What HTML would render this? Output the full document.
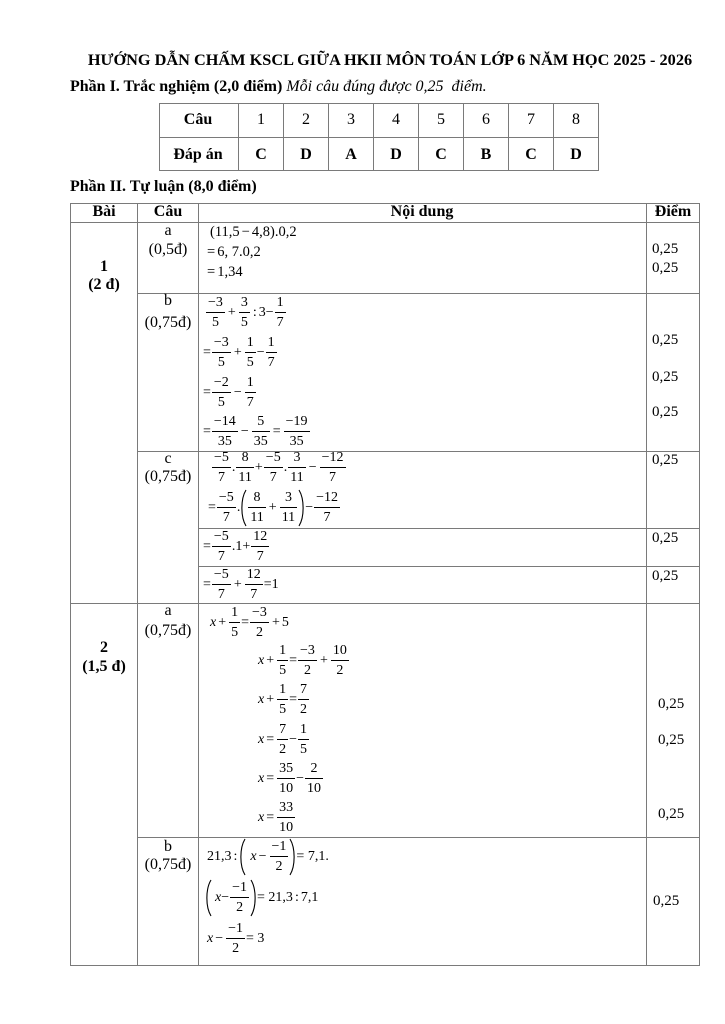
<!DOCTYPE html>
<html><head><meta charset="utf-8">
<style>
*{margin:0;padding:0;box-sizing:border-box}
body{width:725px;height:1024px;background:#fff;position:relative;overflow:hidden;font-family:"Liberation Serif","DejaVu Serif",serif;color:#000}
.t{position:absolute;white-space:nowrap;line-height:18px;font-size:16px}
.c{transform:translateX(-50%)}
.b{font-weight:bold}
.h{position:absolute;height:1px;background:#7a7a7a}
.v{position:absolute;width:1px;background:#7a7a7a}
.m{position:absolute;display:flex;align-items:center;font-size:14px;height:37px;white-space:nowrap;line-height:17px}
.f{display:inline-flex;flex-direction:column;text-align:center;margin:0 1px}
.f i{font-style:normal;line-height:17px;padding:0 2px;display:block}
.f i:first-child{border-bottom:1px solid #000;padding-bottom:1px}
.f i:last-child{padding-top:1px}
.o{margin:0 2px}
.x{font-style:italic}
.p{display:inline-block;width:7px;height:38px;vertical-align:middle}
.s{position:absolute;font-size:15px;line-height:18px;white-space:nowrap}
.mt{position:absolute;font-size:14.5px;line-height:18px;white-space:nowrap}
</style></head><body>

<!-- Title -->
<div class="t b" style="left:80px;width:620px;top:51px;text-align:center;font-size:16.3px">HƯỚNG DẪN CHẤM KSCL GIỮA HKII MÔN TOÁN LỚP 6 NĂM HỌC 2025 - 2026</div>
<div class="t" style="left:70px;top:78px"><b>Phần I. Trắc nghiệm (2,0 điểm)</b> <i>Mỗi câu đúng được 0,25&nbsp; điểm.</i></div>

<!-- Table 1 lines -->
<div class="h" style="left:159px;width:440px;top:103px"></div>
<div class="h" style="left:159px;width:440px;top:137px"></div>
<div class="h" style="left:159px;width:440px;top:170px"></div>
<div class="v" style="left:159px;top:103px;height:68px"></div>
<div class="v" style="left:238px;top:103px;height:68px"></div>
<div class="v" style="left:283px;top:103px;height:68px"></div>
<div class="v" style="left:328px;top:103px;height:68px"></div>
<div class="v" style="left:373px;top:103px;height:68px"></div>
<div class="v" style="left:418px;top:103px;height:68px"></div>
<div class="v" style="left:463px;top:103px;height:68px"></div>
<div class="v" style="left:508px;top:103px;height:68px"></div>
<div class="v" style="left:553px;top:103px;height:68px"></div>
<div class="v" style="left:598px;top:103px;height:68px"></div>

<div class="t b c" style="left:198px;top:111px">Câu</div>
<div class="t c" style="left:261px;top:111px">1</div>
<div class="t c" style="left:306px;top:111px">2</div>
<div class="t c" style="left:351px;top:111px">3</div>
<div class="t c" style="left:396px;top:111px">4</div>
<div class="t c" style="left:441px;top:111px">5</div>
<div class="t c" style="left:486px;top:111px">6</div>
<div class="t c" style="left:531px;top:111px">7</div>
<div class="t c" style="left:576px;top:111px">8</div>
<div class="t b c" style="left:198px;top:146px">Đáp án</div>
<div class="t b c" style="left:261px;top:146px">C</div>
<div class="t b c" style="left:306px;top:146px">D</div>
<div class="t b c" style="left:351px;top:146px">A</div>
<div class="t b c" style="left:396px;top:146px">D</div>
<div class="t b c" style="left:441px;top:146px">C</div>
<div class="t b c" style="left:486px;top:146px">B</div>
<div class="t b c" style="left:531px;top:146px">C</div>
<div class="t b c" style="left:576px;top:146px">D</div>

<div class="t b" style="left:70px;top:178px">Phần II. Tự luận (8,0 điểm)</div>

<!-- Main table lines -->
<div class="h" style="left:70px;width:630px;top:203px"></div>
<div class="h" style="left:70px;width:630px;top:222px"></div>
<div class="h" style="left:137px;width:563px;top:293px"></div>
<div class="h" style="left:137px;width:563px;top:451px"></div>
<div class="h" style="left:198px;width:502px;top:528px"></div>
<div class="h" style="left:198px;width:502px;top:566px"></div>
<div class="h" style="left:70px;width:630px;top:603px"></div>
<div class="h" style="left:137px;width:563px;top:837px"></div>
<div class="h" style="left:70px;width:630px;top:965px"></div>
<div class="v" style="left:70px;top:203px;height:763px"></div>
<div class="v" style="left:137px;top:203px;height:763px"></div>
<div class="v" style="left:198px;top:203px;height:763px"></div>
<div class="v" style="left:646px;top:203px;height:763px"></div>
<div class="v" style="left:699px;top:203px;height:763px"></div>

<!-- Header -->
<div class="t b c" style="left:104px;top:203px">Bài</div>
<div class="t b c" style="left:168px;top:203px">Câu</div>
<div class="t b c" style="left:422px;top:203px">Nội dung</div>
<div class="t b c" style="left:673px;top:203px">Điểm</div>

<!-- Bai labels -->
<div class="t b c" style="left:104px;top:258px">1</div>
<div class="t b c" style="left:104px;top:276px">(2 đ)</div>
<div class="t b c" style="left:104px;top:639px">2</div>
<div class="t b c" style="left:104px;top:658px">(1,5 đ)</div>

<!-- Cau labels -->
<div class="t c" style="left:168px;top:222px">a</div>
<div class="t c" style="left:168px;top:241px">(0,5đ)</div>
<div class="t c" style="left:168px;top:292px">b</div>
<div class="t c" style="left:168px;top:314px">(0,75đ)</div>
<div class="t c" style="left:168px;top:450px">c</div>
<div class="t c" style="left:168px;top:468px">(0,75đ)</div>
<div class="t c" style="left:168px;top:602px">a</div>
<div class="t c" style="left:168px;top:622px">(0,75đ)</div>
<div class="t c" style="left:168px;top:838px">b</div>
<div class="t c" style="left:168px;top:856px">(0,75đ)</div>

<!-- Diem -->
<div class="s" style="left:652px;top:240px">0,25</div>
<div class="s" style="left:652px;top:259px">0,25</div>
<div class="s" style="left:652px;top:331px">0,25</div>
<div class="s" style="left:652px;top:368px">0,25</div>
<div class="s" style="left:652px;top:403px">0,25</div>
<div class="s" style="left:652px;top:451px">0,25</div>
<div class="s" style="left:652px;top:529px">0,25</div>
<div class="s" style="left:652px;top:567px">0,25</div>
<div class="s" style="left:658px;top:695px">0,25</div>
<div class="s" style="left:658px;top:731px">0,25</div>
<div class="s" style="left:658px;top:805px">0,25</div>
<div class="s" style="left:653px;top:892px">0,25</div>

<!-- 1a -->
<div class="mt" style="left:210px;top:223px">(11,5<span class="o">−</span>4,8).0,2</div>
<div class="mt" style="left:207px;top:243px">=<span style="margin-left:2px">6, 7.0,2</span></div>
<div class="mt" style="left:207px;top:263px">=<span style="margin-left:2px">1,34</span></div>

<!-- 1b -->
<div class="m" style="left:205px;top:294px"><span class="f"><i>−3</i><i>5</i></span><span class="o">+</span><span class="f"><i>3</i><i>5</i></span><span class="o">:</span>3<span>−</span><span class="f"><i>1</i><i>7</i></span></div>
<div class="m" style="left:203px;top:334px">=<span class="f"><i>−3</i><i>5</i></span><span class="o">+</span><span class="f"><i>1</i><i>5</i></span><span>−</span><span class="f"><i>1</i><i>7</i></span></div>
<div class="m" style="left:203px;top:374px">=<span class="f"><i>−2</i><i>5</i></span><span class="o">−</span><span class="f"><i>1</i><i>7</i></span></div>
<div class="m" style="left:203px;top:413px">=<span class="f"><i>−14</i><i>35</i></span><span class="o">−</span><span class="f"><i>5</i><i>35</i></span><span class="o">=</span><span class="f"><i>−19</i><i>35</i></span></div>

<!-- 1c -->
<div class="m" style="left:211px;top:449px"><span class="f"><i>−5</i><i>7</i></span>.<span class="f"><i>8</i><i>11</i></span>+<span class="f"><i>−5</i><i>7</i></span>.<span class="f"><i>3</i><i>11</i></span><span class="o">−</span><span class="f"><i>−12</i><i>7</i></span></div>
<div class="m" style="left:208px;top:489px">=<span class="f"><i>−5</i><i>7</i></span>.<svg class="p" viewBox="0 0 7 38"><path d="M6,1 C0.5,10 0.5,28 6,37" fill="none" stroke="#000" stroke-width="1.1"/></svg><span class="f"><i>8</i><i>11</i></span><span class="o">+</span><span class="f"><i>3</i><i>11</i></span><svg class="p" viewBox="0 0 7 38"><path d="M1,1 C6.5,10 6.5,28 1,37" fill="none" stroke="#000" stroke-width="1.1"/></svg><span>−</span><span class="f"><i>−12</i><i>7</i></span></div>
<div class="m" style="left:203px;top:528px">=<span class="f"><i>−5</i><i>7</i></span>.1+<span class="f"><i>12</i><i>7</i></span></div>
<div class="m" style="left:203px;top:566px">=<span class="f"><i>−5</i><i>7</i></span><span class="o">+</span><span class="f"><i>12</i><i>7</i></span>=1</div>

<!-- 2a -->
<div class="m" style="left:210px;top:604px"><span class="x">x</span><span class="o">+</span><span class="f"><i>1</i><i>5</i></span>=<span class="f"><i>−3</i><i>2</i></span><span class="o">+</span>5</div>
<div class="m" style="left:258px;top:642px"><span class="x">x</span><span class="o">+</span><span class="f"><i>1</i><i>5</i></span>=<span class="f"><i>−3</i><i>2</i></span><span class="o">+</span><span class="f"><i>10</i><i>2</i></span></div>
<div class="m" style="left:258px;top:681px"><span class="x">x</span><span class="o">+</span><span class="f"><i>1</i><i>5</i></span>=<span class="f"><i>7</i><i>2</i></span></div>
<div class="m" style="left:258px;top:721px"><span class="x">x</span><span class="o">=</span><span class="f"><i>7</i><i>2</i></span><span>−</span><span class="f"><i>1</i><i>5</i></span></div>
<div class="m" style="left:258px;top:760px"><span class="x">x</span><span class="o">=</span><span class="f"><i>35</i><i>10</i></span><span>−</span><span class="f"><i>2</i><i>10</i></span></div>
<div class="m" style="left:258px;top:799px"><span class="x">x</span><span class="o">=</span><span class="f"><i>33</i><i>10</i></span></div>

<!-- 2b -->
<div class="m" style="left:207px;top:838px">21,3<span class="o">:</span><svg class="p" viewBox="0 0 7 38"><path d="M6,1 C0.5,10 0.5,28 6,37" fill="none" stroke="#000" stroke-width="1.1"/></svg><span class="x" style="margin-left:4px">x</span><span class="o">−</span><span class="f"><i>−1</i><i>2</i></span><svg class="p" viewBox="0 0 7 38"><path d="M1,1 C6.5,10 6.5,28 1,37" fill="none" stroke="#000" stroke-width="1.1"/></svg>= 7,1.</div>
<div class="m" style="left:205px;top:879px"><svg class="p" viewBox="0 0 7 38"><path d="M6,1 C0.5,10 0.5,28 6,37" fill="none" stroke="#000" stroke-width="1.1"/></svg><span class="x" style="margin-left:3px">x</span><span>−</span><span class="f"><i>−1</i><i>2</i></span><svg class="p" viewBox="0 0 7 38"><path d="M1,1 C6.5,10 6.5,28 1,37" fill="none" stroke="#000" stroke-width="1.1"/></svg>= 21,3<span class="o">:</span>7,1</div>
<div class="m" style="left:207px;top:920px"><span class="x">x</span><span class="o">−</span><span class="f"><i>−1</i><i>2</i></span>= 3</div>

</body></html>
